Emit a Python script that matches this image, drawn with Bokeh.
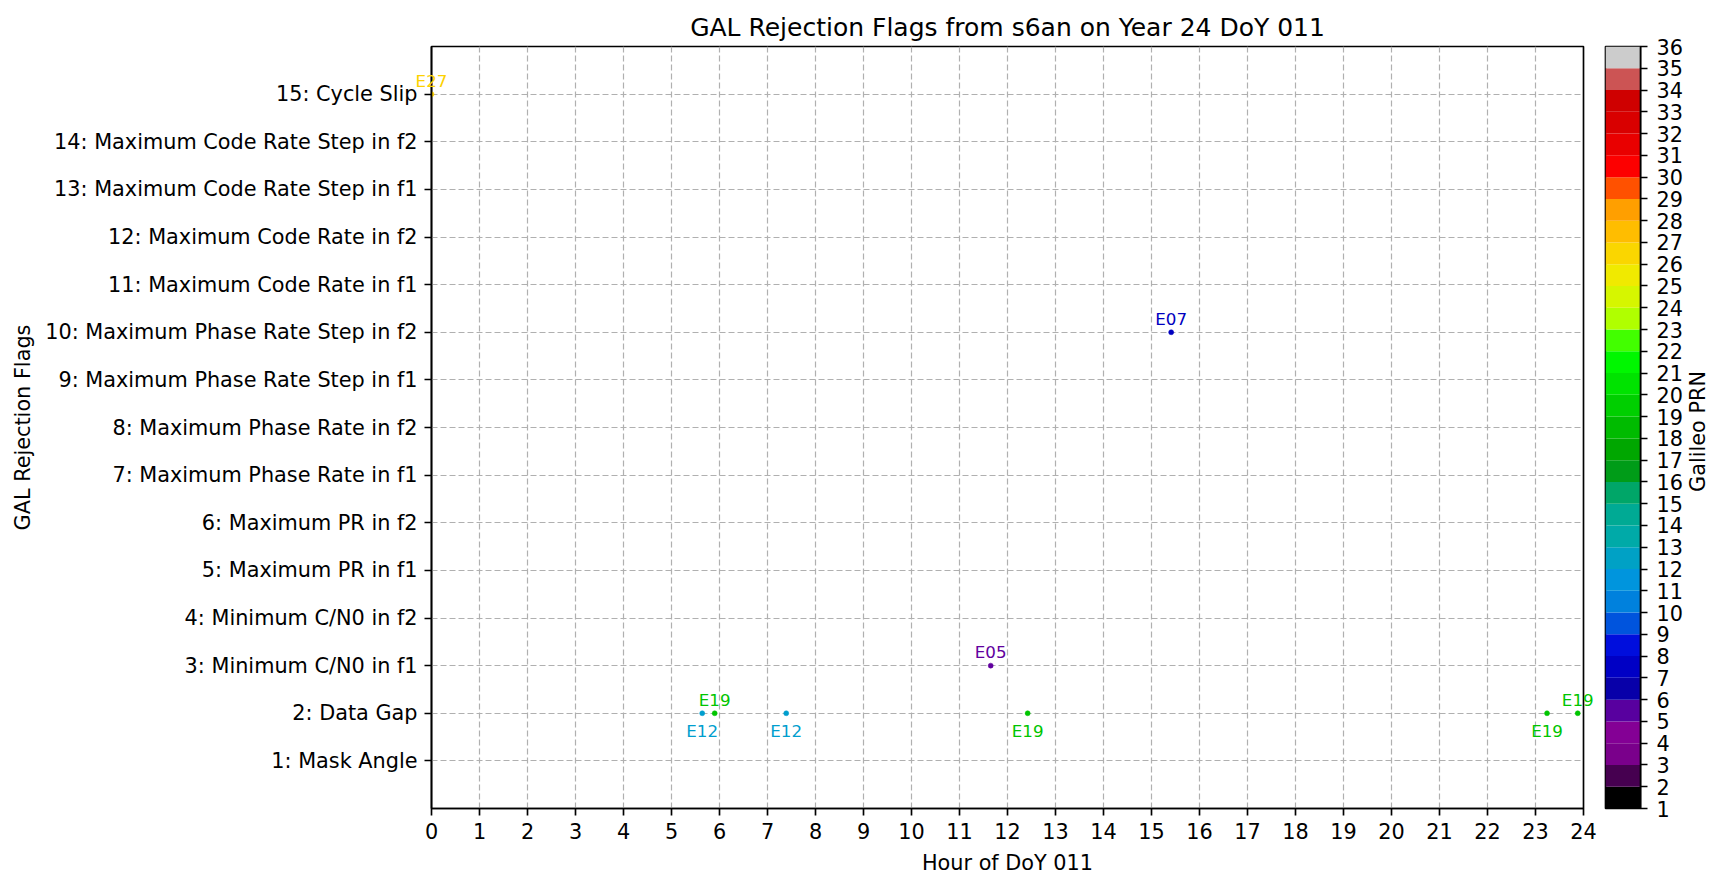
import math
from bokeh.plotting import figure
from bokeh.models import ColumnDataSource, FixedTicker, Range1d
from bokeh.layouts import row
from bokeh.embed import file_html
from bokeh.resources import INLINE
from bokeh.core.properties import value

# ---------------- data ----------------
title_text = "GAL Rejection Flags from s6an on Year 24 DoY 011"
x_label = "Hour of DoY 011"
y_label = "GAL Rejection Flags"
cbar_label = "Galileo PRN"
flag_labels = [
    "1: Mask Angle", "2: Data Gap", "3: Minimum C/N0 in f1", "4: Minimum C/N0 in f2",
    "5: Maximum PR in f1", "6: Maximum PR in f2", "7: Maximum Phase Rate in f1",
    "8: Maximum Phase Rate in f2", "9: Maximum Phase Rate Step in f1",
    "10: Maximum Phase Rate Step in f2", "11: Maximum Code Rate in f1",
    "12: Maximum Code Rate in f2", "13: Maximum Code Rate Step in f1",
    "14: Maximum Code Rate Step in f2", "15: Cycle Slip",
]
flag_ticks = list(range(1, 16))
hour_ticks = list(range(0, 25))
prn_ticks = list(range(1, 37))

hours = [0.0, 15.41, 11.65, 5.64, 5.90, 7.39, 12.42, 23.24, 23.88]
flags = [15, 10, 3, 2, 2, 2, 2, 2, 2]
prns = [27, 7, 5, 12, 19, 12, 19, 19, 19]
label_side = ["above", "above", "above", "below", "above", "below", "below", "below", "above"]

# ---------------- nipy_spectral colormap ----------------
_ns_red = [0.0, 0.4667, 0.5333, 0.0, 0.0, 0.0, 0.0, 0.0, 0.0, 0.0, 0.0, 0.0, 0.0,
           0.7333, 0.9333, 1.0, 1.0, 1.0, 0.8667, 0.80, 0.80]
_ns_green = [0.0, 0.0, 0.0, 0.0, 0.0, 0.4667, 0.6, 0.6667, 0.6667, 0.6, 0.7333, 0.8667,
             1.0, 1.0, 0.9333, 0.8, 0.6, 0.0, 0.0, 0.0, 0.80]
_ns_blue = [0.0, 0.5333, 0.6, 0.6667, 0.8667, 0.8667, 0.8667, 0.6667, 0.5333, 0.0, 0.0,
            0.0, 0.0, 0.0, 0.0, 0.0, 0.0, 0.0, 0.0, 0.0, 0.80]


def nipy_spectral(t):
    t = min(max(t, 0.0), 1.0)
    pos = t / 0.05
    i = min(int(pos), 19)
    f = pos - i
    def ch(arr):
        return arr[i] + (arr[i + 1] - arr[i]) * f
    r, g, b = ch(_ns_red), ch(_ns_green), ch(_ns_blue)
    return "#%02x%02x%02x" % (round(r * 255), round(g * 255), round(b * 255))


lo, hi = prn_ticks[0], prn_ticks[-1]
point_colors = [nipy_spectral((p - lo) / (hi - lo)) for p in prns]
nbins = len(prn_ticks) - 1
bin_colors = [nipy_spectral(k / (nbins - 1)) for k in range(nbins)]

FONT = "DejaVu Sans"
TICK_FS = "20.8px"
LW = 1.67

src = ColumnDataSource(dict(
    x=hours, y=flags, c=point_colors,
    t=["E%02d" % p for p in prns],
    yo=[-13.5 if s == "above" else 18.0 for s in label_side],
))

# ---------------- main figure ----------------
p = figure(width=1598, height=880, x_range=Range1d(0, 24), y_range=Range1d(0, 16),
           output_backend="svg", toolbar_location=None, title=title_text,
           min_border_left=431, min_border_right=15, min_border_top=46, min_border_bottom=72)
p.background_fill_color = "white"
p.outline_line_color = "black"
p.outline_line_width = LW

p.title.align = "center"
p.title.text_font = FONT
p.title.text_font_size = "25px"
p.title.text_font_style = "normal"
p.title.text_color = "black"

p.xaxis.ticker = FixedTicker(ticks=hour_ticks)
p.yaxis.ticker = FixedTicker(ticks=flag_ticks)
p.yaxis.major_label_overrides = {t: lab for t, lab in zip(flag_ticks, flag_labels)}
p.xaxis.axis_label = x_label
p.yaxis.axis_label = y_label
for ax in (p.xaxis, p.yaxis):
    ax.axis_line_color = "black"
    ax.axis_line_width = LW
    ax.major_tick_line_color = "black"
    ax.major_tick_line_width = LW
    ax.major_tick_out = 7
    ax.major_tick_in = 0
    ax.minor_tick_line_color = None
    ax.major_label_text_font = FONT
    ax.major_label_text_font_size = TICK_FS
    ax.major_label_text_color = "black"
    ax.major_label_standoff = 7
    ax.axis_label_text_font = FONT
    ax.axis_label_text_font_size = TICK_FS
    ax.axis_label_text_font_style = "normal"
    ax.axis_label_text_color = "black"
    ax.axis_label_standoff = 7
p.xaxis.axis_label_standoff = 9

p.grid.grid_line_color = "#b0b0b0"
p.grid.grid_line_width = 1.2
p.grid.grid_line_dash = "6 3"

p.scatter("x", "y", source=src, size=5, fill_color="c", line_color="c", line_width=0.5)
p.text("x", "y", text="t", source=src, text_color="c", text_align="center",
       text_baseline="middle", y_offset="yo", text_font=value(FONT),
       text_font_size="16.7px", level="overlay")

# ---------------- colorbar figure ----------------
cb = figure(width=118, height=880, x_range=Range1d(0, 1), y_range=Range1d(lo, hi),
            y_axis_location="right", output_backend="svg", toolbar_location=None,
            min_border_left=7, min_border_right=76, min_border_top=46, min_border_bottom=72)
cb.xaxis.visible = False
cb.grid.visible = False
cb.outline_line_color = "black"
cb.outline_line_width = LW
cb.quad(left=0, right=1, bottom=prn_ticks[:-1], top=prn_ticks[1:], fill_color=bin_colors,
        line_color=None)
ay = cb.yaxis[0]
ay.ticker = FixedTicker(ticks=prn_ticks)
ay.axis_line_color = "black"
ay.axis_line_width = LW
ay.major_tick_line_color = "black"
ay.major_tick_line_width = LW
ay.major_tick_out = 7
ay.major_tick_in = 0
ay.minor_tick_line_color = None
ay.major_label_text_font = FONT
ay.major_label_text_font_size = TICK_FS
ay.major_label_text_color = "black"
ay.major_label_standoff = 9

# rotated colour-bar label (reads bottom-to-top), drawn outside the bar
cb.text(x=[1.0], y=[(lo + hi) / 2], text=[cbar_label], angle=math.pi / 2,
        x_offset=57, y_offset=4, text_align="center", text_baseline="middle",
        text_font=value(FONT), text_font_size=TICK_FS, text_color="black", level="overlay")

layout = row(p, cb, spacing=0)
open("out.html", "w").write(file_html(layout, INLINE))
